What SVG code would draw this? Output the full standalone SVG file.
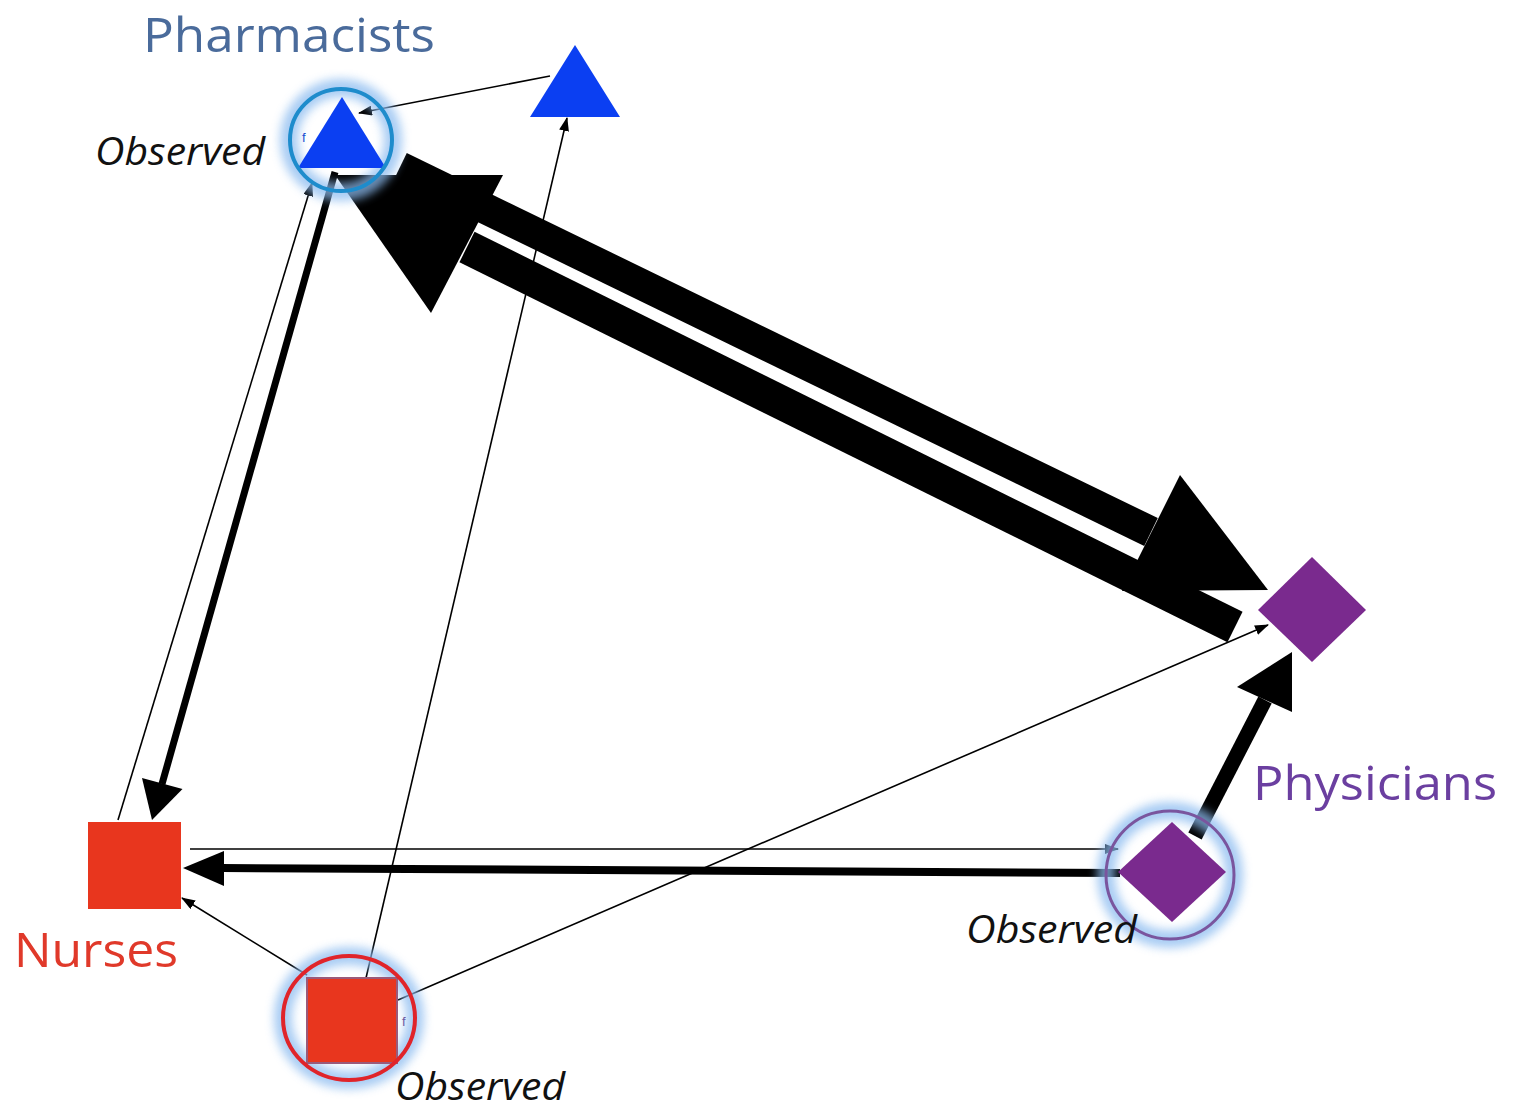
<svg xmlns="http://www.w3.org/2000/svg" width="1515" height="1112" viewBox="0 0 1515 1112">
<style>
.thin{stroke:#000;stroke-width:1.6;fill:none}
.thick{stroke:#000;fill:none;stroke-linecap:butt}
.head{fill:#000}
.obs{font-family:"Open Sans","Liberation Sans",sans-serif;font-style:italic;font-size:38px;fill:#111}
.lab{font-family:"Open Sans","Liberation Sans",sans-serif;font-size:48px}
.tri{fill:#0b3ff2}
.dia{fill:#7a2a8e}
.sq{fill:#e8361e}
.glow{fill:none;stroke:#8cbcf0;stroke-width:18;opacity:0.75}
.f{font-family:"Liberation Sans",sans-serif;font-size:13px}
</style>
<defs>
<filter id="blur" x="-50%" y="-50%" width="200%" height="200%"><feGaussianBlur stdDeviation="5"/></filter>
<marker id="ah" markerUnits="userSpaceOnUse" markerWidth="14" markerHeight="10" refX="13" refY="5" orient="auto"><path d="M0,0 L14,5 L0,10 z" fill="#000"/></marker>
</defs>
<rect width="1515" height="1112" fill="#fff"/>
<g id="connectors">
<line class="thin" x1="550" y1="76" x2="359" y2="113" marker-end="url(#ah)"/>
<line class="thin" x1="366" y1="978" x2="567" y2="118" marker-end="url(#ah)"/>
<line class="thin" x1="118" y1="820" x2="312" y2="183" marker-end="url(#ah)"/>
<line class="thin" x1="307" y1="975" x2="182" y2="898" marker-end="url(#ah)"/>
<line class="thin" x1="398" y1="1000" x2="1268" y2="625" marker-end="url(#ah)"/>
<line class="thin" x1="190" y1="849" x2="1118" y2="849" marker-end="url(#ah)"/>
<line class="thick" x1="335" y1="172" x2="162" y2="784" stroke-width="7"/>
<polygon class="head" points="152,820 182.5,789 142,778"/>
<line class="thick" x1="1120" y1="873" x2="222" y2="868" stroke-width="8"/>
<polygon class="head" points="183,868 224,851 224,886"/>
<line class="thick" x1="1195" y1="836" x2="1265" y2="700" stroke-width="15"/>
<polygon class="head" points="1292,652 1237,687 1292,712"/>
<line class="thick" x1="400" y1="167" x2="1151" y2="532" stroke-width="31"/>
<polygon class="head" points="1268,590 1122,591 1180,475"/>
<line class="thick" x1="1235" y1="627" x2="467" y2="247" stroke-width="34"/>
<polygon class="head" points="335,175 431,313 503,175"/>
</g>
<g id="pharm-observed">
<circle class="glow" cx="341" cy="140" r="52" filter="url(#blur)"/>
<polygon class="tri" points="342,97 298,168 386,168"/>
<circle cx="341" cy="140" r="51" fill="none" stroke="#1e8ccc" stroke-width="4"/>
<text class="f" x="302" y="142" fill="#1a4fd0">f</text>
<text class="obs" x="95" y="165" textLength="170" lengthAdjust="spacingAndGlyphs">Observed</text>
</g>
<g id="pharm-label">
<text class="lab" x="143" y="52" fill="#4a6b9b" textLength="292" lengthAdjust="spacingAndGlyphs">Pharmacists</text>
</g>
<g id="pharm2">
<polygon class="tri" points="575,45 530,117 620,117"/>
</g>
<g id="physician">
<polygon class="dia" points="1258,610 1312,557 1366,610 1312,662"/>
<text class="lab" x="1253" y="800" fill="#6b3fa0" textLength="244" lengthAdjust="spacingAndGlyphs">Physicians</text>
</g>
<g id="physician-observed">
<circle class="glow" cx="1170" cy="875" r="64" filter="url(#blur)"/>
<polygon class="dia" points="1118,872 1172,822 1226,872 1172,922"/>
<circle cx="1170" cy="875" r="64" fill="none" stroke="#7a559e" stroke-width="3"/>
<text class="obs" x="966" y="943" textLength="171" lengthAdjust="spacingAndGlyphs">Observed</text>
</g>
<g id="nurses">
<rect class="sq" x="88" y="822" width="93" height="87"/>
<text class="lab" x="14" y="967" fill="#e0392a" textLength="164" lengthAdjust="spacingAndGlyphs">Nurses</text>
</g>
<g id="nurse-observed">
<ellipse class="glow" cx="349" cy="1018" rx="66" ry="62" filter="url(#blur)"/>
<rect class="sq" x="307" y="978" width="90" height="85" stroke="#9a5a7a" stroke-width="2"/>
<ellipse cx="349" cy="1018" rx="66" ry="62" fill="none" stroke="#e0242a" stroke-width="4"/>
<text class="f" x="402" y="1026" fill="#6a5aa0">f</text>
<text class="obs" x="395" y="1100" textLength="170" lengthAdjust="spacingAndGlyphs">Observed</text>
</g>
</svg>
